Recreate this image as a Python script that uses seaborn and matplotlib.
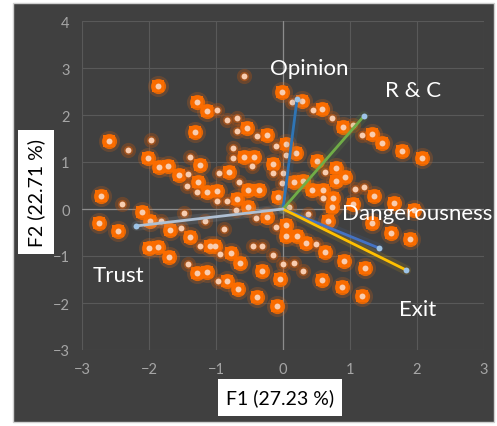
import matplotlib
matplotlib.use("Agg")
import matplotlib.pyplot as plt
from matplotlib.patches import Rectangle
import seaborn as sns
import pandas as pd

# =========================
# DATA
# =========================

# observations: F1, F2 and marker class (L = large, S = small)
f1 = [-1.87, -1.28, -1.13, -0.99, -1.31, -2.60, -1.97, -2.31, -2.01, -1.39,
      -1.24, -1.85, -1.72, -1.55, -1.42, -1.27, -1.43, -1.28, -1.13, -0.99,
      -0.99, -0.84, -0.69, -0.52, -2.72, -2.40, -2.10, -1.48, -0.58, -0.84,
      -0.69, -0.54, -0.69, -0.75, -0.75, -0.58, -0.96, -0.81, -0.66, -0.52,
      -0.36, -0.02, 0.13, 0.28, 0.45, 0.58, 0.73, 0.89, 1.04, 1.18,
      1.33, 1.48, 1.78, 2.07, -0.39, -0.24, 0.04, -0.10, -0.43, 0.04,
      0.19, 0.51, 0.63, 0.79, -0.15, -0.46, 0.00, -0.15, 0.93, 0.79,
      0.16, 0.30, -0.01, 0.43, 0.60, 0.60, 0.75, 1.07, 1.21, 1.36,
      1.04, 1.66, 1.96, -0.07, 0.09, -0.70, 0.73, -0.24, -0.40, -0.10,
      0.04, 0.37, 0.67, -0.88, -1.01, -0.94, -0.78, -0.64, -0.45, -0.31,
      -0.15, 0.04, 0.21, 0.34, 0.49, 0.63, 0.00, 0.16, 0.30, -0.31,
      -0.84, -0.67, -0.97, -0.04, 0.58, 0.88, -0.39, 0.91, 1.22, 1.18,
      -0.09, 1.33, 1.61, 1.90, -2.75, -2.46, -1.99, -1.82, -1.69, -1.52,
      -1.39, -1.24, -1.16, -1.09, -2.00, -1.87, -1.70, -1.42, -1.28, -1.13]
f2 = [2.62, 2.27, 2.08, 2.10, 1.64, 1.45, 1.47, 1.26, 1.08, 1.11,
      0.94, 0.89, 0.91, 0.72, 0.74, 0.57, 0.49, 0.36, 0.36, 0.38,
      0.17, 0.17, 0.21, 0.04, 0.28, 0.10, -0.06, -0.08, 2.83, 1.90,
      1.93, 1.72, 1.66, 1.30, 1.08, 1.10, 0.76, 0.78, 0.57, 0.40,
      0.40, 2.49, 2.27, 2.30, 2.10, 2.13, 1.94, 1.74, 1.79, 1.57,
      1.60, 1.40, 1.23, 1.08, 1.55, 1.57, 1.38, 1.34, 1.10, 1.15,
      1.19, 1.02, 0.79, 0.87, 0.96, 0.91, 0.77, 0.77, 0.68, 0.60,
      0.57, 0.60, 0.55, 0.40, 0.40, 0.23, 0.23, 0.43, 0.47, 0.28,
      0.10, 0.13, -0.02, 0.26, 0.04, -0.02, 0.04, -0.17, -0.19, -0.38,
      -0.34, -0.10, -0.26, -0.43, -0.79, -0.96, -0.94, -1.15, -0.79, -0.79,
      -0.98, -0.57, -0.57, -0.72, -0.74, -0.91, -1.17, -1.15, -1.32, -1.32,
      -1.53, -1.70, -1.53, -1.49, -1.51, -1.66, -1.87, -1.11, -1.26, -1.85,
      -2.06, -0.30, -0.51, -0.64, -0.30, -0.47, -0.26, -0.26, -0.45, -0.40,
      -0.60, -0.79, -0.26, -0.79, -0.83, -0.81, -1.02, -1.17, -1.36, -1.34]
marker_class = list("LLLSLLSSLS" "LLLLSLSSLL" "SSLLLSLSSS" "SLSSSLSLSL"
                    "LLSLSLSLSS" "LLLLSLLSLS" "LLSLLSSSLL" "LLSLLSLSSL"
                    "LLLLSSLLSS" "LSLSLSLLSS" "SLLLSLSSSL" "LLSLLLLLLL"
                    "LLLLLLLSLS" "LSSLLLLSLL")

# variables (loading vectors)
variables = ["Opinion", "R & C", "Dangerousness", "Exit", "Trust"]
var_f1 = [0.21, 1.21, 1.43, 1.84, -2.19]
var_f2 = [2.34, 1.98, -0.83, -1.30, -0.36]

x_ticks = [-3, -2, -1, 0, 1, 2, 3]
y_ticks = [-3, -2, -1, 0, 1, 2, 3, 4]

# =========================
# STYLE
# =========================

vec_colors = ["#2E75B6", "#70AD47", "#4472C4", "#FFC000", "#AFC0D3"]
label_pos = {"Opinion": (0.39, 3.0), "R & C": (1.94, 2.53),
             "Dangerousness": (2.0, -0.08), "Exit": (2.01, -2.13),
             "Trust": (-2.45, -1.40)}

sns.set_theme(style="dark")
plt.rcParams["font.family"] = ["Lato", "DejaVu Sans"]

bg = "#404040"
fig = plt.figure(figsize=(4.97, 4.27), dpi=100, facecolor="white")
fig.patches.append(Rectangle((13 / 497, 4 / 427), 481 / 497, 419 / 427,
                             transform=fig.transFigure, facecolor=bg,
                             edgecolor="#D0D0D0", lw=1, zorder=-2))
ax = fig.add_axes([82 / 497, 76 / 427, 402 / 497, 329 / 427])
ax.set_facecolor(bg)

df = pd.DataFrame({"F1": f1, "F2": f2, "cls": marker_class})
big = df[df["cls"] == "L"]
small = df[df["cls"] == "S"]

# large points: soft glow + rounded orange square
sns.scatterplot(data=big, x="F1", y="F2", marker="o", s=230, color="#E8680F",
                alpha=0.22, linewidth=0, ax=ax, zorder=3)
sns.scatterplot(data=big, x="F1", y="F2", marker="o", s=120, color="#F26A00",
                alpha=0.9, linewidth=0, ax=ax, zorder=4)
sns.scatterplot(data=big, x="F1", y="F2", marker="s", s=75, color="#FA6C00",
                linewidth=0, ax=ax, zorder=4)
# small points: dim halo
sns.scatterplot(data=small, x="F1", y="F2", marker="o", s=120, color="#B8520F",
                alpha=0.35, linewidth=0, ax=ax, zorder=3)
sns.scatterplot(data=small, x="F1", y="F2", marker="o", s=45, color="#C85C14",
                alpha=0.55, linewidth=0, ax=ax, zorder=4)
# pale centres
sns.scatterplot(data=df, x="F1", y="F2", marker="o", s=18, color="#F9CDB0",
                linewidth=0, ax=ax, zorder=5)

# loading vectors
for name, vx, vy, c in zip(variables, var_f1, var_f2, vec_colors):
    ax.plot([0, vx], [0, vy], color=c, lw=7, alpha=0.12, solid_capstyle="round", zorder=6)
    ax.plot([0, vx], [0, vy], color=c, lw=2, zorder=7)
    ax.scatter([vx], [vy], s=18, color="#9DC3E6", zorder=8, linewidths=0)
    lx, ly = label_pos[name]
    ax.text(lx, ly, name, color="white", fontsize=16, ha="center", va="center", zorder=9)

# axes
ax.set_xlim(-3, 3)
ax.set_ylim(-3, 4)
ax.set_xticks(x_ticks)
ax.set_yticks(y_ticks)
ax.grid(True, color="#595959", lw=0.8)
ax.axvline(0, color="#8C8C8C", lw=0.9, zorder=2)
ax.axhline(0, color="#8C8C8C", lw=0.9, zorder=2)
for s in ax.spines.values():
    s.set_visible(False)
ax.tick_params(colors="#A6A6A6", labelsize=10.5, length=0, pad=9)
ax.set_xlabel("")
ax.set_ylabel("")

# axis title boxes
fig.patches.append(Rectangle((18 / 497, (427 - 255) / 427), 36 / 497, 124 / 427,
                             transform=fig.transFigure, facecolor="white",
                             edgecolor="none", zorder=1))
fig.text(36 / 497, (427 - 193) / 427, "F2 (22.71 %)", rotation=90, fontsize=14,
         color="black", ha="center", va="center")
fig.patches.append(Rectangle((218 / 497, (427 - 417) / 427), 124 / 497, 37 / 427,
                             transform=fig.transFigure, facecolor="white",
                             edgecolor="none", zorder=1))
fig.text(280 / 497, (427 - 398) / 427, "F1 (27.23 %)", fontsize=14,
         color="black", ha="center", va="center")

fig.savefig("out.png", dpi=100, facecolor="white")
